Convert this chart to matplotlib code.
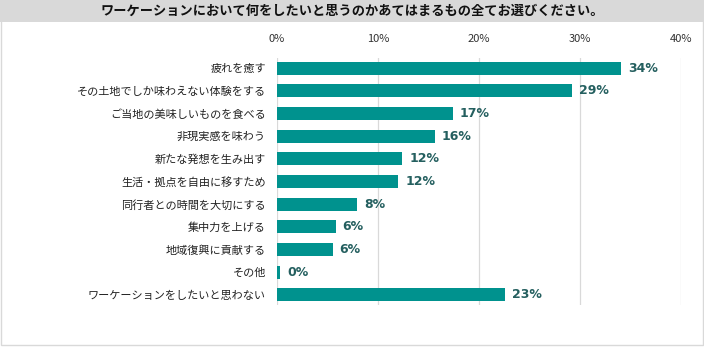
import matplotlib
matplotlib.use("Agg")
import matplotlib.pyplot as plt
import matplotlib.patches as patches
import numpy as np

plt.rcParams['font.family'] = ['Noto Sans CJK JP', 'DejaVu Sans']

title = "ワーケーションにおいて何をしたいと思うのかあてはまるもの全てお選びください。"
categories = [
    "疲れを癒す",
    "その土地でしか味わえない体験をする",
    "ご当地の美味しいものを食べる",
    "非現実感を味わう",
    "新たな発想を生み出す",
    "生活・拠点を自由に移すため",
    "同行者との時間を大切にする",
    "集中力を上げる",
    "地域復興に貢献する",
    "その他",
    "ワーケーションをしたいと思わない",
]
values = [34.1, 29.2, 17.4, 15.6, 12.4, 12.0, 7.9, 5.8, 5.5, 0.3, 22.6]
xticks = [0, 10, 20, 30, 40]

bar_color = "#00928e"
label_color = "#245f5f"
grid_color = "#d9d9d9"

fig = plt.figure(figsize=(7.04, 3.53), dpi=100)

# title band
fig.patches.append(patches.Rectangle((0, 1 - 22 / 353), 1, 22 / 353,
                                     transform=fig.transFigure, facecolor="#d9d9d9",
                                     edgecolor="none", zorder=0))
fig.text(0.5, 1 - 11 / 353, title, ha="center", va="center",
         fontsize=9.5, fontweight="bold", color="#111111")

# outer frame
fig.patches.append(patches.Rectangle((1 / 704, 8 / 353), 1 - 2 / 704, 1 - 8 / 353,
                                     transform=fig.transFigure, facecolor="none",
                                     edgecolor="#d9d9d9", linewidth=1, zorder=0))

ax = fig.add_axes([277 / 704, 1 - 305 / 353, (681 - 277) / 704, (305 - 58) / 353])
y = np.arange(len(categories))
ax.barh(y, values, height=0.58, color=bar_color, zorder=3)

for yi, v in zip(y, values):
    ax.text(v + 0.7, yi, f"{round(v)}%", va="center", ha="left",
            fontsize=9, fontweight="bold", color=label_color,
            family="DejaVu Sans")

ax.set_xlim(0, 40)
ax.set_ylim(len(categories) - 0.55, -0.45)
ax.set_xticks(xticks)
ax.set_xticklabels([f"{t}%" for t in xticks], fontsize=8, color="#333333")
ax.xaxis.tick_top()
ax.tick_params(axis="x", length=0, pad=10)
ax.set_yticks(y)
ax.set_yticklabels(categories, fontsize=8, color="#222222")
ax.tick_params(axis="y", length=0, pad=8)
ax.grid(axis="x", color=grid_color, linewidth=0.9, zorder=0)
for s in ax.spines.values():
    s.set_visible(False)

plt.savefig("out.png", dpi=100)
